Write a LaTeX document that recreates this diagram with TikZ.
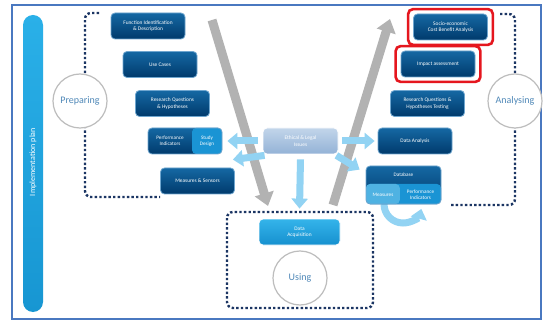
\documentclass[tikz,border=0pt]{standalone}
\usepackage{fontspec}
\setmainfont{Carlito}
\usetikzlibrary{arrows.meta,calc}
\definecolor{frameblue}{HTML}{4A78C0}
\definecolor{bartop}{HTML}{2AB0E8}
\definecolor{barbot}{HTML}{1796D2}
\definecolor{boxtop}{HTML}{1568A3}
\definecolor{boxbot}{HTML}{003A6C}
\definecolor{boxedge}{HTML}{6FA6CF}
\definecolor{studyblue}{HTML}{1A94D4}
\definecolor{meastop}{HTML}{4FB2E2}
\definecolor{acqtop}{HTML}{34B4EA}
\definecolor{acqbot}{HTML}{1690CF}
\definecolor{ethtop}{HTML}{C2D5EA}
\definecolor{ethbot}{HTML}{93B2D6}
\definecolor{dotnavy}{HTML}{1B3563}
\definecolor{arrowgray}{HTML}{B2B2B2}
\definecolor{arrowlb}{HTML}{92D3F3}
\definecolor{circgray}{HTML}{BDBDBD}
\definecolor{phasetext}{HTML}{4F88B8}
\definecolor{hired}{HTML}{E5161E}
\tikzset{
  darkbox/.style={rounded corners=4pt, draw=boxedge, line width=0.8pt,
    top color=boxtop, bottom color=boxbot, text=white, align=center,
    minimum width=74pt, minimum height=26pt, inner sep=1pt,
    font=\fontsize{5.4}{6.4}\selectfont},
  dotline/.style={draw=dotnavy, line width=2.4pt, dash pattern=on 2.4pt off 2.2pt, rounded corners=6pt},
  phase/.style={circle, draw=circgray, line width=1.2pt, fill=white, minimum size=54pt,
    text=phasetext, font=\fontsize{10}{12}\selectfont},
  grayarrow/.style={draw=arrowgray, line width=9pt, -{Triangle[width=19pt,length=13pt]}},
  lbarrow/.style={draw=arrowlb, line width=7pt, -{Triangle[width=16pt,length=10pt]}},
  redframe/.style={draw=hired, line width=2.6pt, rounded corners=5pt},
  small/.style={text=white, align=center, font=\fontsize{5.2}{6.2}\selectfont, inner sep=0pt}
}
\begin{document}
\begin{tikzpicture}[x=1pt,y=-1pt]
\useasboundingbox (0,0) rectangle (543,323);
\fill[white] (0,0) rectangle (543,323);
% frame
\draw[frameblue, line width=1.6pt] (12,5) rectangle (541,319);
% implementation bar
\node[rounded corners=10pt, top color=bartop, bottom color=barbot, minimum width=20pt,
  minimum height=297pt, inner sep=0pt] (bar) at (33,163.5) {};
\node[rotate=90, text=white, font=\fontsize{8}{9}\selectfont] (bartext) at (33,162) {Implementation plan};

% dotted phase outlines
\coordinate (pA) at (99,13);
\coordinate (pB) at (85,13);
\coordinate (pC) at (85,197);
\coordinate (pD) at (160,197);
\draw[dotline] (pA) -- (pB) -- (pC) -- (pD);
\coordinate (aA) at (500,14);
\coordinate (aB) at (515,14);
\coordinate (aC) at (515,205);
\coordinate (aD) at (450,205);
\draw[dotline] (aA) -- (aB) -- (aC) -- (aD);
\coordinate (uA) at (227,212);
\coordinate (uB) at (373,308);
\draw[dotline] (uA) rectangle (uB);

% phase circles
\node[phase] (prep) at (80,101) {Preparing};
\node[phase] (anal) at (515,101) {Analysing};
\node[phase] (using) at (300,278) {Using};

% gray arrows
\coordinate (g1s) at (212,20);
\coordinate (g1e) at (268,206);
\draw[grayarrow] (g1s) -- (g1e);
\coordinate (g2s) at (333,205);
\coordinate (g2e) at (390,19);
\draw[grayarrow] (g2s) -- (g2e);

% loop arrow under the database
\coordinate (loopc) at (403,204);
\draw[lbarrow] ([shift={(-19,0)}]loopc) arc[start angle=180, end angle=15, radius=19];

% left boxes
\node[darkbox] (func) at (148,26) {Function Identification\\ \& Description};
\node[darkbox] (use) at (160,64.5) {Use Cases};
\node[darkbox] (rq) at (172.5,103.5) {Research Questions\\ \& Hypotheses};
\node[darkbox, path picture={\fill[studyblue] ($(path picture bounding box.north west)!0.595!(path picture bounding box.north east)$) rectangle (path picture bounding box.south east);}] (perf) at (185,141) {};
\node[small] (perftxt) at (170,141) {Performance\\Indicators};
\node[small] (studytxt) at (207,141) {Study\\Design};
\node[darkbox] (meas) at (197.5,181) {Measures \& Sensors};

% right boxes
\node[darkbox] (socio) at (450.5,27) {Socio-economic\\Cost Benefit Analysis};
\node[darkbox] (impact) at (438,64) {Impact assessment};
\node[darkbox] (rqt) at (427.5,103.5) {Research Questions \&\\Hypotheses Testing};
\node[darkbox] (da) at (415,141) {Data Analysis};
\node[darkbox, minimum width=75pt, minimum height=38pt,
  path picture={
    \fill[studyblue] ($(path picture bounding box.north west)+(0,18)$) rectangle (path picture bounding box.south east);
    \fill[meastop] ($(path picture bounding box.north west)+(0,18)$) rectangle ($(path picture bounding box.south west)!0.45!(path picture bounding box.south east)$);
  }] (db) at (403.5,185) {};
\node[small] (dbtxt) at (403.5,174.5) {Database};
\node[small] (meastxt) at (383,194.5) {Measures};
\node[small] (pitxt) at (420.5,194.5) {Performance\\Indicators};

% red highlight frames
\draw[redframe] ([shift={(-5,-4.5)}]socio.north west) rectangle ([shift={(5,4.5)}]socio.south east);
\draw[redframe] ([shift={(-5,-4.5)}]impact.north west) rectangle ([shift={(5,4.5)}]impact.south east);

% ethical box
\node[rounded corners=4pt, draw=white, line width=0.8pt, top color=ethtop, bottom color=ethbot,
  text=white, align=center, minimum width=75pt, minimum height=26pt, inner sep=1pt,
  font=\fontsize{5.4}{6.4}\selectfont] (eth) at (300.5,141) {Ethical \& Legal\\Issues};

% data acquisition
\node[rounded corners=4pt, draw=white, line width=0.8pt, top color=acqtop, bottom color=acqbot,
  text=white, align=center, minimum width=81pt, minimum height=26pt, inner sep=1pt,
  font=\fontsize{5.4}{6.4}\selectfont] (acq) at (299.5,232) {Data\\Acquisition};

% light blue arrows
\draw[lbarrow] ([xshift=-5]eth.west) -- ([xshift=5]perf.east);
\draw[lbarrow] ([shift={(2,1)}]eth.south west) -- ([shift={(-2,-8)}]meas.north east);
\draw[lbarrow] ([xshift=4]eth.east) -- ([xshift=-3]da.west);
\draw[lbarrow] ([shift={(-2,1)}]eth.south east) -- ([shift={(-6,4)}]db.north west);
\draw[lbarrow] ([yshift=-5]eth.south) -- ([yshift=10]acq.north);
\end{tikzpicture}
\end{document}
